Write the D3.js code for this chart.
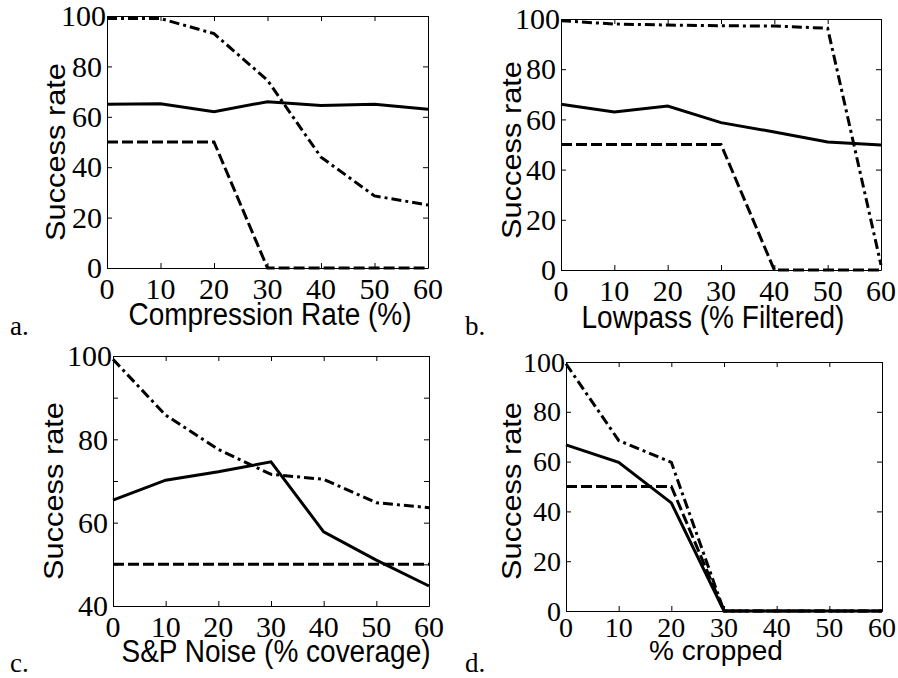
<!DOCTYPE html>
<html>
<head>
<meta charset="utf-8">
<script src="https://cdn.jsdelivr.net/npm/d3@7"></script>
<style>
  body { margin: 0; background: #fff; }
  .tick-label { font-family: "Liberation Serif", "Times New Roman", serif; fill: #000; }
  .axis-label { font-family: "Liberation Sans", Arial, sans-serif; font-size: 28px; fill: #000; }
</style>
</head>
<body>
<div id="chart"></div>
<script>
// x positions shared by all four panels
const xValues = [0, 10, 20, 30, 40, 50, 60];

// a. compression
const compressionSolid   = [65, 65.2, 62, 66, 64.5, 65, 63];
const compressionDashed  = [50, 50, 50, 0, 0, 0, 0];
const compressionDashDot = [99, 99, 93, 74.5, 44, 28.6, 25];

// b. lowpass
const lowpassSolid   = [66, 63, 65.3, 58.7, 55, 51, 49.8];
const lowpassDashed  = [50, 50, 50, 50, 0, 0, 0];
const lowpassDashDot = [99.3, 98, 97.6, 97.3, 97.2, 96.3, 2];

// c. salt & pepper noise
const noiseSolid   = [65.4, 70.2, 72.2, 74.6, 57.8, 51, 44.8];
const noiseDashed  = [50, 50, 50, 50, 50, 50, 50];
const noiseDashDot = [99.2, 85.8, 77.6, 71.6, 70.4, 64.8, 63.6];

// d. cropping
const cropSolid   = [66.7, 59.7, 43.4, 0, 0, 0, 0];
const cropDashed  = [50, 50, 50, 0, 0, 0, 0];
const cropDashDot = [99.3, 68.5, 59.7, 0, 0, 0, 0];

const xLabels = ['Compression Rate (%)', 'Lowpass (% Filtered)', 'S&P Noise (% coverage)', '% cropped'];
const panelLetters = ['a.', 'b.', 'c.', 'd.'];

const WIDTH = 898, HEIGHT = 678;

const panels = [
  { box: { left: 107, right: 428, top: 16, bottom: 268 }, yDomain: [0, 100], yTick: 20, tickFont: 30, tickBase: 31,
    series: [compressionSolid, compressionDashed, compressionDashDot], stretch: 1.1,
    xLab: { x: 270, y: 325 }, yLab: { x: 55, y: 152 }, letter: { x: 10, y: 335 } },
  { box: { left: 561, right: 881, top: 19, bottom: 270 }, yDomain: [0, 100], yTick: 20, tickFont: 30, tickBase: 31,
    series: [lowpassSolid, lowpassDashed, lowpassDashDot], stretch: 1.1,
    xLab: { x: 713, y: 328 }, yLab: { x: 511, y: 150 }, letter: { x: 465, y: 335 } },
  { box: { left: 113, right: 429, top: 356, bottom: 606 }, yDomain: [40, 100], yTick: 10, tickFont: 30, tickBase: 31,
    series: [noiseSolid, noiseDashed, noiseDashDot], stretch: 1.1,
    xLab: { x: 276, y: 662 }, yLab: { x: 53, y: 491 }, letter: { x: 10, y: 672 } },
  { box: { left: 566, right: 882, top: 362, bottom: 611 }, yDomain: [0, 100], yTick: 20, tickFont: 28, tickBase: 26,
    series: [cropSolid, cropDashed, cropDashDot], stretch: 1.0,
    xLab: { x: 716, y: 660 }, yLab: { x: 511, y: 491 }, letter: { x: 465, y: 672 } }
];

const dashes = [null, '11,4', '10,4,3,4'];

const svg = d3.select('#chart')
  .append('svg')
  .attr('width', WIDTH)
  .attr('height', HEIGHT);

svg.append('rect').attr('width', WIDTH).attr('height', HEIGHT).attr('fill', '#fff');

panels.forEach((p, i) => {
  const b = p.box;
  const x = d3.scaleLinear().domain([0, 60]).range([b.left, b.right]);
  const y = d3.scaleLinear().domain(p.yDomain).range([b.bottom, b.top]);
  const yTicks = d3.range(p.yDomain[0], p.yDomain[1] + 1, p.yTick);
  const yLabelTicks = yTicks.filter(d => d % 20 === 0);

  const g = svg.append('g');

  const cleanAxis = sel => {
    sel.selectAll('text').remove();
    sel.selectAll('path, line').attr('stroke', '#000').attr('stroke-width', 1);
  };

  // box with inward ticks on all four sides
  g.append('g')
    .attr('transform', `translate(0,${b.bottom})`)
    .call(d3.axisBottom(x).tickValues(xValues).tickFormat('').tickSizeInner(-5).tickSizeOuter(0))
    .call(cleanAxis);
  g.append('g')
    .attr('transform', `translate(${b.left},0)`)
    .call(d3.axisLeft(y).tickValues(yTicks).tickFormat('').tickSizeInner(-5).tickSizeOuter(0))
    .call(cleanAxis);
  g.append('g')
    .attr('transform', `translate(0,${b.top})`)
    .call(d3.axisTop(x).tickValues(xValues).tickFormat('').tickSizeInner(-5).tickSizeOuter(0))
    .call(cleanAxis);
  g.append('g')
    .attr('transform', `translate(${b.right},0)`)
    .call(d3.axisRight(y).tickValues(yTicks).tickFormat('').tickSizeInner(-5).tickSizeOuter(0))
    .call(cleanAxis);

  // tick labels
  g.selectAll('text.xt')
    .data(xValues)
    .join('text')
    .attr('class', 'tick-label xt')
    .attr('x', d => x(d))
    .attr('y', b.bottom + p.tickBase)
    .attr('text-anchor', 'middle')
    .style('font-size', p.tickFont + 'px')
    .text(d => d);

  g.selectAll('text.yt')
    .data(yLabelTicks)
    .join('text')
    .attr('class', 'tick-label yt')
    .attr('x', d => b.left - (d === 100 ? 1 : 5))
    .attr('y', d => y(d))
    .attr('dy', '0.34em')
    .attr('text-anchor', 'end')
    .style('font-size', p.tickFont + 'px')
    .text(d => d);

  const line = d3.line().x((d, k) => x(xValues[k])).y(d => y(d));

  p.series.forEach((values, s) => {
    g.append('path')
      .attr('d', line(values))
      .attr('fill', 'none')
      .attr('stroke', '#000')
      .attr('stroke-width', 3)
      .attr('stroke-dasharray', dashes[s]);
  });

  g.append('text')
    .attr('class', 'axis-label')
    .attr('transform', `translate(${p.xLab.x},${p.xLab.y}) scale(1,${p.stretch})`)
    .attr('text-anchor', 'middle')
    .text(xLabels[i]);

  g.append('text')
    .attr('class', 'axis-label')
    .attr('transform', `translate(${p.yLab.x},${p.yLab.y}) rotate(-90) scale(1.1,1)`)
    .attr('text-anchor', 'middle')
    .attr('dy', '0.35em')
    .text('Success rate');

  g.append('text')
    .attr('class', 'tick-label')
    .attr('x', p.letter.x)
    .attr('y', p.letter.y)
    .style('font-size', '27px')
    .text(panelLetters[i]);
});
</script>
</body>
</html>
